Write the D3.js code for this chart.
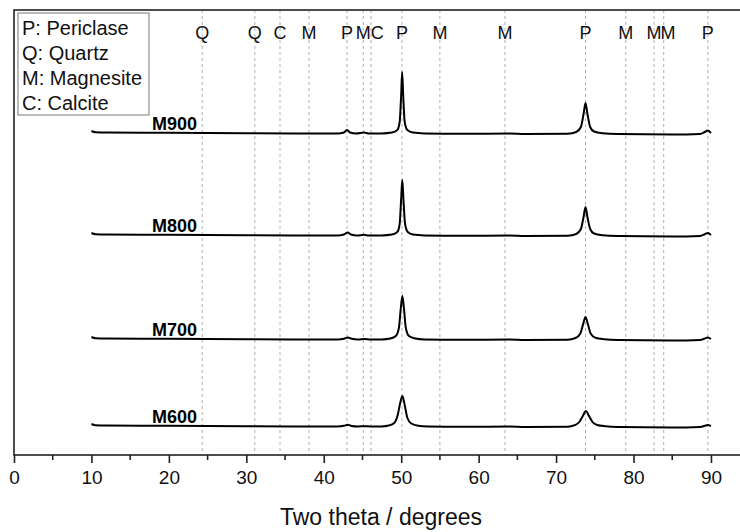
<!DOCTYPE html>
<html>
<head>
<meta charset="utf-8">
<script src="https://cdn.jsdelivr.net/npm/d3@7"></script>
<style>
  body { margin: 0; background: #fff; }
  svg { display: block; font-family: "Liberation Sans", Arial, sans-serif; }
</style>
</head>
<body>
<div id="chart"></div>
<script>
// phase reference lines (2theta) and their letters
const phaseLines = [24.3, 31.1, 34.35, 38.1, 43.0, 45.1, 46.1, 50.1, 55.0, 63.4, 73.8, 79.0, 82.65, 83.9, 89.6];
const phaseLabels = ["Q", "Q", "C", "M", "P", "M", "C", "P", "M", "M", "P", "M", "M", "M", "P"];

const legendItems = ["P: Periclase", "Q: Quartz", "M: Magnesite", "C: Calcite"];

const xTicks = [0, 10, 20, 30, 40, 50, 60, 70, 80, 90];

const samples = ["M900", "M800", "M700", "M600"];
const offsets = [321, 219, 115, 28];

// [2theta, intensity a.u.]
const m900 = [[10, 3], [10.5, 1.8], [12, 1.5], [20, 1.2], [30, 0.8], [38, 0.5], [41.8, 0.5], [42.6, 1.5],
  [43.0, 4], [43.4, 1.5], [44.2, 0.5], [45.2, 1.5], [45.8, 0.5], [47.5, 0.6], [48.8, 1.5], [49.5, 4],
  [49.8, 12], [50.0, 40], [50.12, 62], [50.25, 40], [50.45, 12], [50.8, 4], [51.5, 1.5], [53, 0.6],
  [58, 0.2], [64, 0.5], [66, 0], [71.5, 0.3], [72.6, 2], [73.2, 7], [73.55, 20], [73.8, 31], [74.05, 20],
  [74.4, 7], [74.9, 2.5], [76, 0.8], [78, 0], [85, -0.5], [88.6, 0], [89.2, 2], [89.6, 3.5], [90, 1]];

const m800 = [[10, 3], [10.5, 1.8], [12, 1.5], [20, 1.2], [30, 0.8], [38, 0.5], [41.8, 0.5], [42.6, 1.5],
  [43.1, 3.5], [43.5, 1.5], [44.3, 0.5], [45.2, 1.2], [45.8, 0.5], [47.5, 0.6], [48.8, 1.5], [49.5, 4],
  [49.8, 12], [50.0, 38], [50.14, 56], [50.28, 38], [50.5, 12], [50.85, 4], [51.5, 1.5], [53, 0.6],
  [58, 0.2], [64, 0.5], [66, 0], [71.5, 0.3], [72.6, 2], [73.2, 7], [73.55, 19], [73.8, 29], [74.05, 19],
  [74.4, 7], [74.9, 2.5], [76, 0.8], [78, 0], [85, -0.5], [88.6, 0], [89.2, 1.8], [89.6, 3], [90, 1]];

const m700 = [[10, 3], [10.5, 1.8], [12, 1.5], [20, 1.2], [30, 0.8], [38, 0.5], [41.8, 0.5], [42.6, 1.2],
  [43.1, 2.5], [43.6, 1.2], [44.4, 0.5], [45.3, 1], [46, 0.5], [47.5, 0.6], [48.6, 1.5], [49.3, 4],
  [49.7, 12], [49.95, 32], [50.15, 44], [50.35, 32], [50.6, 12], [51.0, 4], [51.8, 1.5], [53, 0.6],
  [58, 0.2], [64, 0.5], [66, 0], [71.5, 0.3], [72.5, 2], [73.1, 6], [73.5, 16], [73.8, 23], [74.1, 16],
  [74.5, 6], [75.1, 2.2], [76.2, 0.8], [78, 0], [85, -0.5], [88.6, 0], [89.2, 1.5], [89.6, 2.5], [90, 1]];

const m600 = [[10, 3], [10.5, 1.8], [12, 1.5], [20, 1.2], [30, 0.8], [38, 0.5], [41.8, 0.5], [42.6, 1.2],
  [43.1, 2.2], [43.6, 1], [44.4, 0.5], [45.3, 0.8], [46, 0.5], [47.5, 0.6], [48.4, 1.5], [49.1, 4],
  [49.55, 12], [49.9, 25], [50.15, 31], [50.45, 22], [50.8, 9], [51.3, 3.5], [52.2, 1.2], [53.5, 0.6],
  [58, 0.2], [64, 0.5], [66, 0], [71.5, 0.3], [72.4, 1.8], [73.0, 5], [73.45, 11], [73.85, 16], [74.25, 11],
  [74.7, 5], [75.3, 2], [76.4, 0.7], [78, 0], [85, -0.5], [88.6, 0], [89.2, 1.2], [89.6, 2], [90, 0.8]];

const series = [m900, m800, m700, m600];

const W = 740, H = 532;
const margin = {top: 10, left: 14, bottom: 77};

const x = d3.scaleLinear().domain([0, 95]).range([margin.left, margin.left + 95 * 7.744]);
const y = d3.scaleLinear().domain([0, H - margin.top - margin.bottom]).range([H - margin.bottom, margin.top]);

const svg = d3.select("#chart").append("svg")
  .attr("width", W)
  .attr("height", H);

// dashed phase lines
svg.append("g")
  .selectAll("line")
  .data(phaseLines)
  .join("line")
    .attr("x1", d => x(d))
    .attr("x2", d => x(d))
    .attr("y1", y.range()[1])
    .attr("y2", y.range()[0])
    .attr("stroke", "#b0b0b0")
    .attr("stroke-width", 1)
    .attr("stroke-dasharray", "3,3");

// phase letters; push a letter right when its line is too close to the previous one
let lx = phaseLines.map(d => x(d));
for (let i = 1; i < lx.length; i++) {
  if (lx[i] - lx[i - 1] < 14) {
    lx[i] = lx[i - 1] + 14;
  }
}
svg.append("g")
  .selectAll("text")
  .data(phaseLabels)
  .join("text")
    .attr("x", (d, i) => lx[i])
    .attr("y", 39)
    .attr("text-anchor", "middle")
    .attr("font-size", 18)
    .attr("fill", "#111")
    .text(d => d);

// patterns
const line = d3.line()
  .x(d => x(d[0]))
  .y(d => y(d[1]))
  .curve(d3.curveMonotoneX);

series.forEach((s, i) => {
  let pts = s.map(d => [d[0], d[1] + offsets[i]]);
  svg.append("path")
    .attr("d", line(pts))
    .attr("fill", "none")
    .attr("stroke", "#000")
    .attr("stroke-width", 2);

  svg.append("text")
    .attr("x", 152)
    .attr("y", y(offsets[i]) - 4)
    .attr("font-size", 18)
    .attr("font-weight", "bold")
    .text(samples[i]);
});

// frame
svg.append("rect")
  .attr("x", x(0))
  .attr("y", y.range()[1])
  .attr("width", x(95) - x(0))
  .attr("height", y.range()[0] - y.range()[1])
  .attr("fill", "none")
  .attr("stroke", "#222")
  .attr("stroke-width", 1.6);

// bottom axis
const xAxis = d3.axisBottom(x)
  .tickValues(xTicks)
  .tickSize(8)
  .tickPadding(8)
  .tickFormat(d3.format("d"));

const gx = svg.append("g")
  .attr("transform", `translate(0,${y.range()[0]})`)
  .call(xAxis);
gx.select(".domain").remove();
gx.selectAll(".tick line").attr("stroke", "#222").attr("stroke-width", 1.6);
gx.selectAll(".tick text")
  .attr("font-size", 19)
  .attr("font-family", "Liberation Sans, Arial, sans-serif")
  .attr("fill", "#111");

svg.append("g")
  .selectAll("line")
  .data(d3.range(5, 95, 10))
  .join("line")
    .attr("x1", d => x(d))
    .attr("x2", d => x(d))
    .attr("y1", y.range()[0])
    .attr("y2", y.range()[0] + 5)
    .attr("stroke", "#222")
    .attr("stroke-width", 1.6);

svg.append("text")
  .attr("x", 381)
  .attr("y", 525)
  .attr("text-anchor", "middle")
  .attr("font-size", 23)
  .attr("fill", "#111")
  .text("Two theta / degrees");

// legend box
const legend = svg.append("g");
legend.append("rect")
  .attr("x", 18)
  .attr("y", 13)
  .attr("width", 131)
  .attr("height", 102)
  .attr("fill", "#fff")
  .attr("stroke", "#777")
  .attr("stroke-width", 1);
legend.selectAll("text")
  .data(legendItems)
  .join("text")
    .attr("x", 22)
    .attr("y", (d, i) => 35 + i * 25)
    .attr("font-size", 20)
    .attr("fill", "#111")
    .text(d => d);
</script>
</body>
</html>
